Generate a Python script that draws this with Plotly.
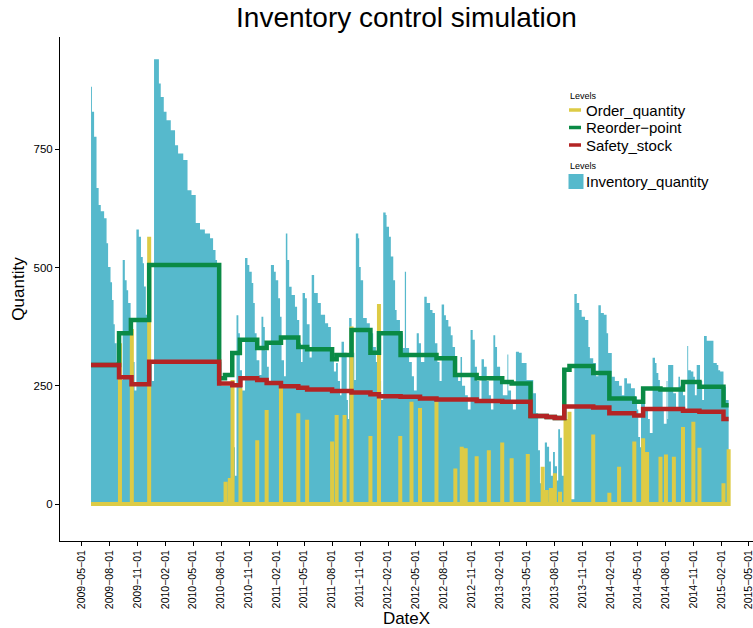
import pandas as pd
import plotly.graph_objects as go

# ---------------- data (day = days since START_DATE) ----------------
START_DATE = "2009-05-01"
END_DAY = 2125

inv_day = [30, 33, 40, 48, 55, 62, 73, 81, 86, 94, 99, 104, 108, 114, 118,
           134, 141, 147, 152, 160, 168, 173,
           179, 187, 194, 200, 204, 210, 217, 223, 230,
           237, 253, 259, 269, 278, 292, 306, 316, 333, 347, 360, 374, 388, 404, 421, 431, 439, 444, 449, 453,
           458, 496, 503,
           508, 514, 519, 526,
           536, 544, 550, 558, 563, 568, 574, 583,
           590, 596, 601, 608, 614,
           621, 631, 637, 645, 651, 656, 664,
           670, 675, 681, 689, 700, 707, 714, 720,
           725, 733, 739, 748,
           755, 763, 775, 785, 799, 809, 818, 828,
           835, 841, 848,
           853, 861, 870, 874,
           878, 886, 891, 895,
           900, 908, 911, 916, 924, 936, 946, 957, 966, 976, 983,
           990, 998, 1001, 1009, 1015, 1023, 1029, 1034, 1045, 1055,
           1061, 1065, 1075, 1084, 1091,
           1100, 1107, 1114,
           1125, 1133, 1144, 1152, 1160, 1168, 1175,
           1182, 1190, 1196, 1204, 1212, 1218, 1226, 1236,
           1244, 1249, 1259, 1268,
           1277, 1284, 1291, 1298, 1306,
           1313, 1321, 1330, 1337, 1344,
           1352, 1358, 1364, 1374, 1383,
           1398, 1401, 1410, 1416,
           1426, 1436, 1445, 1461, 1483, 1492, 1499, 1505, 1512,
           1521, 1528, 1535, 1541, 1548, 1554, 1561, 1565, 1571, 1577, 1584, 1590, 1604,
           1618, 1626, 1634, 1642, 1653, 1664, 1669, 1680, 1689,
           1697, 1705, 1715, 1724, 1729, 1741, 1751, 1765, 1774,
           1782, 1791, 1804, 1817, 1824, 1828, 1834,
           1837, 1850, 1860, 1866,
           1875, 1883, 1888, 1894, 1899, 1908, 1912,
           1921, 1924, 1926, 1943, 1952,
           1960, 1965, 1975, 1982,
           1989, 1992, 2001, 2009, 2014,
           2020, 2031, 2038,
           2044, 2053, 2075, 2086, 2091, 2097, 2108, 2116, 2125]
inv_qty = [882, 829, 776, 668, 632, 619, 604, 551, 501, 469, 431, 380, 340, 300, 262,
           516, 473, 452, 425, 361, 300, 240,
           580, 565, 522, 509, 460, 400, 340, 300, 260,
           940, 889, 860, 829, 811, 790, 758, 741, 727, 663, 653, 594, 580, 572, 562, 537, 516, 470, 400, 300,
           250, 120, 60,
           399, 361, 283, 240,
           520, 505, 491, 467, 425, 361, 304, 273,
           396, 374, 325, 290, 260,
           505, 491, 473, 435, 396, 304, 270,
           572, 516, 459, 442, 417, 389, 340, 300,
           446, 435, 380, 310,
           484, 446, 425, 400, 382, 374, 320, 280,
           298, 260, 230,
           343, 320, 220, 180,
           393, 374, 320, 262,
           572, 562, 501, 473, 393, 382, 361, 332, 300, 260, 220,
           616, 611, 586, 565, 523, 473, 410, 389, 361, 330,
           491, 330, 300, 270, 240,
           361, 340, 300,
           438, 425, 410, 404, 340, 300, 260,
           422, 399, 389, 375, 357, 332, 277, 260,
           311, 250, 230, 200,
           368, 347, 290, 260, 220,
           306, 290, 260, 230, 200,
           357, 332, 290, 260, 230,
           316, 240, 220, 200,
           322, 320, 298, 262, 234, 192, 114, 44, 15,
           130, 121, 90, 60, 110, 80, 50, 158, 140, 60, 20, 25, 10,
           444, 425, 410, 396, 389, 332, 308, 298, 270,
           420, 404, 400, 361, 319, 269, 260, 250, 230,
           266, 255, 245, 227, 200, 142, 120,
           220, 200, 180, 150,
           309, 298, 277, 262, 241, 200, 170,
           260, 180, 294, 234, 200,
           269, 250, 230, 200,
           334, 283, 280, 269, 230,
           294, 260, 220,
           355, 345, 298, 294, 283, 280, 248, 220, 220]

order_day = [125, 164, 221, 472, 486, 495, 521, 576, 607, 654, 711, 740, 822, 837, 863, 886,
             948, 976, 1046, 1083, 1111, 1165, 1227, 1248, 1261, 1297, 1337, 1381, 1412, 1465,
             1514, 1527, 1541, 1554, 1571, 1589, 1602, 1680, 1733, 1765, 1815, 1844, 1857,
             1901, 1919, 1945, 1975, 2009, 2029, 2108, 2125]
order_qty = [340, 370, 565, 47, 55, 262, 245, 135, 199, 250, 192, 178, 132, 188, 188, 375,
             144, 423, 144, 216, 203, 216, 75, 121, 118, 101, 114, 130, 97, 106,
             79, 30, 34, 65, 26, 180, 195, 147, 24, 79, 132, 139, 110,
             100, 105, 100, 163, 174, 119, 44, 116]

rop_day = [30, 122, 161, 221, 451, 470, 494, 519, 576, 607, 654, 711, 740, 822, 837, 886,
           948, 976, 1047, 1165, 1226, 1297, 1381, 1412, 1474, 1527, 1554, 1585, 1602,
           1680, 1733, 1815, 1844, 1901, 1975, 2029, 2108, 2125]
rop_qty = [294, 361, 389, 505, 266, 273, 319, 347, 330, 341, 352, 332, 327, 306, 315, 368,
           320, 361, 315, 308, 273, 266, 258, 255, 186, 184, 182, 284, 292,
           277, 223, 216, 244, 242, 258, 248, 209, 209]

ss_day = [30, 122, 163, 221, 451, 494, 521, 576, 607, 654, 711, 740, 822, 886, 948, 976,
          1047, 1111, 1165, 1297, 1381, 1474, 1527, 1554, 1585, 1680, 1733, 1815, 1844,
          1975, 2029, 2108, 2125]
ss_qty = [294, 268, 253, 301, 255, 251, 266, 262, 256, 249, 246, 242, 239, 236, 232, 228,
          227, 223, 221, 218, 216, 186, 184, 182, 206, 204, 192, 187, 201,
          197, 195, 180, 180]

tick_dates = ["2009-05-01", "2009-08-01", "2009-11-01", "2010-02-01", "2010-05-01",
              "2010-08-01", "2010-11-01", "2011-02-01", "2011-05-01", "2011-08-01",
              "2011-11-01", "2012-02-01", "2012-05-01", "2012-08-01", "2012-11-01",
              "2013-02-01", "2013-05-01", "2013-08-01", "2013-11-01", "2014-02-01",
              "2014-05-01", "2014-08-01", "2014-11-01", "2015-02-01", "2015-05-01"]
y_ticks = [0, 250, 500, 750]

series_names = ["Order_quantity", "Reorder\u2212point", "Safety_stock"]
fill_name = "Inventory_quantity"
legend_title = "Levels"

assert len(inv_day) == len(inv_qty)
assert len(order_day) == len(order_qty)
assert len(rop_day) == len(rop_qty)
assert len(ss_day) == len(ss_qty)

# ---------------- styles ----------------
TEAL = "#56B9CC"
YELLOW = "#DDCB45"
GREEN = "#0A8A45"
RED = "#B32424"
FONT = "Liberation Sans, Arial, Helvetica, sans-serif"

W, H = 753, 628
ML, MR, MT, MB = 60, 0, 37, 87
PW, PH = W - ML - MR, H - MT - MB


def px_x(x):
    return (x - ML) / PW


def px_y(y):
    return (H - MB - y) / PH


def to_dates(days):
    base = pd.Timestamp(START_DATE)
    return [(base + pd.Timedelta(days=int(d))).strftime("%Y-%m-%d") for d in days]


# order quantity is zero every day except the order days
o_days = [inv_day[0]]
o_vals = [0]
for d, q in zip(order_day, order_qty):
    o_days += [d, d, d]
    o_vals += [0, q, 0]
if o_days[-1] < END_DAY:
    o_days.append(END_DAY)
    o_vals.append(0)

fig = go.Figure()

fig.add_trace(go.Scatter(
    x=to_dates(inv_day), y=inv_qty, mode="lines",
    line=dict(shape="hv", width=0, color=TEAL),
    fill="tozeroy", fillcolor=TEAL, name=fill_name, showlegend=False))

fig.add_trace(go.Scatter(
    x=to_dates(o_days), y=o_vals, mode="lines",
    line=dict(width=4, color=YELLOW), name=series_names[0], showlegend=False))

fig.add_trace(go.Scatter(
    x=to_dates(rop_day), y=rop_qty, mode="lines",
    line=dict(shape="hv", width=4.5, color=GREEN), name=series_names[1], showlegend=False))

fig.add_trace(go.Scatter(
    x=to_dates(ss_day), y=ss_qty, mode="lines",
    line=dict(shape="hv", width=4.5, color=RED), name=series_names[2], showlegend=False))

# ---------------- legend (ggplot style, two keys titled "Levels") ----------------
annotations = []
shapes = []
annotations.append(dict(text=legend_title, x=px_x(568), y=px_y(96), xref="paper", yref="paper",
                        xanchor="left", yanchor="middle", showarrow=False,
                        font=dict(size=9, color="black")))
for name, col, yc in zip(series_names, [YELLOW, GREEN, RED], [110, 127.5, 145]):
    shapes.append(dict(type="line", xref="paper", yref="paper",
                       x0=px_x(569), x1=px_x(581), y0=px_y(yc), y1=px_y(yc),
                       line=dict(color=col, width=3.5)))
    annotations.append(dict(text=name, x=px_x(584), y=px_y(yc), xref="paper", yref="paper",
                            xanchor="left", yanchor="middle", showarrow=False,
                            font=dict(size=15, color="black")))
annotations.append(dict(text=legend_title, x=px_x(568), y=px_y(166), xref="paper", yref="paper",
                        xanchor="left", yanchor="middle", showarrow=False,
                        font=dict(size=9, color="black")))
shapes.append(dict(type="rect", xref="paper", yref="paper",
                   x0=px_x(568.5), x1=px_x(583.5), y0=px_y(189), y1=px_y(174),
                   fillcolor=TEAL, line=dict(width=0)))
annotations.append(dict(text=fill_name, x=px_x(584), y=px_y(181.5), xref="paper", yref="paper",
                        xanchor="left", yanchor="middle", showarrow=False,
                        font=dict(size=15, color="black")))

fig.update_layout(
    width=W, height=H,
    margin=dict(l=ML, r=MR, t=MT, b=MB),
    paper_bgcolor="white", plot_bgcolor="white",
    font=dict(family=FONT, color="black"),
    title=dict(text="Inventory control simulation", xref="paper", x=0.5, xanchor="center",
               yref="container", y=0.973, yanchor="middle",
               font=dict(size=28, color="black")),
    showlegend=False,
    annotations=annotations,
    shapes=shapes,
)

fig.update_xaxes(
    type="date", range=["2009-02-18", "2015-05-15"],
    tickmode="array", tickvals=tick_dates,
    ticktext=[t.replace("-", "\u2212") for t in tick_dates],
    tickangle=-90, ticks="outside", ticklen=4, tickcolor="black", tickwidth=1,
    tickfont=dict(size=10.5, color="black"), ticklabeloverflow="allow",
    showline=True, linecolor="black", linewidth=1,
    showgrid=False, zeroline=False,
    title=dict(text="DateX", font=dict(size=17, color="black"), standoff=5),
)
fig.update_yaxes(
    range=[-78, 987], tickmode="array", tickvals=y_ticks,
    ticks="outside", ticklen=4, tickcolor="black", tickwidth=1,
    tickfont=dict(size=11.5, color="black"),
    showline=True, linecolor="black", linewidth=1,
    showgrid=False, zeroline=False,
    title=dict(text="Quantity", font=dict(size=17, color="black"), standoff=4),
)

fig.write_html("out.html", config={"displayModeBar": False},
               post_script="document.body.style.margin='0';")
